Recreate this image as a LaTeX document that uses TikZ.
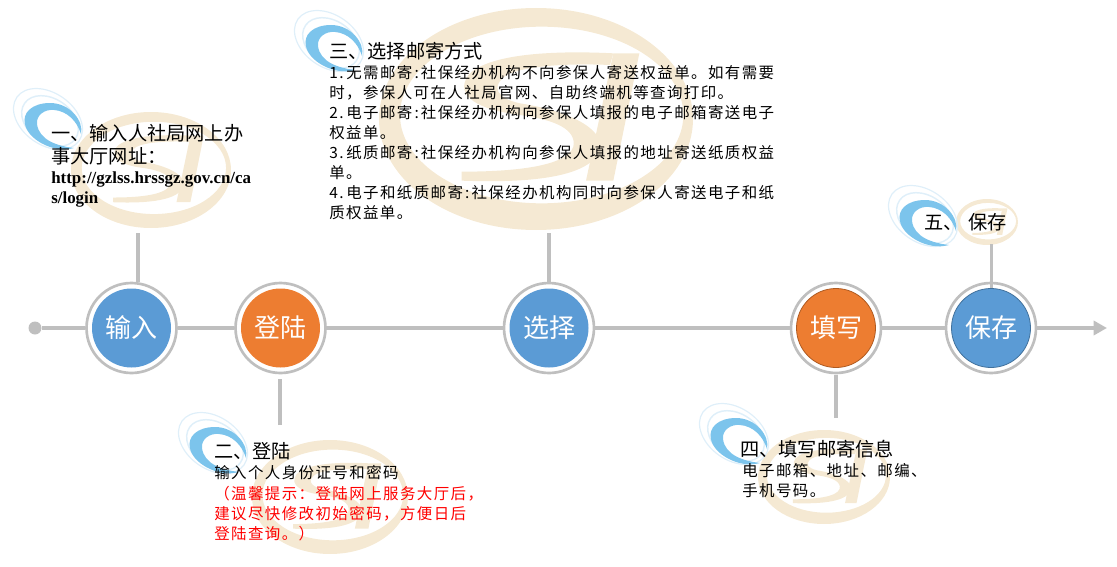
\documentclass[tikz,border=0pt]{standalone}
\usepackage{fontspec}
\setmainfont{Noto Sans CJK SC}
\newfontfamily\headcjk{Noto Sans CJK SC}
\newfontfamily\smallcjk[LetterSpace=9.2]{Noto Sans CJK SC}
\newfontfamily\urlserif{Liberation Serif}
\usetikzlibrary{arrows.meta}
\definecolor{axisgray}{HTML}{BFBFBF}
\definecolor{stepblue}{HTML}{5B9BD5}
\definecolor{steporange}{HTML}{ED7D31}
\definecolor{swirlblue}{HTML}{7CC4EC}
\definecolor{swirllight}{HTML}{DFEFF9}
\definecolor{logotan}{HTML}{F5E9D3}
\definecolor{bordorange}{HTML}{AE5A21}
\definecolor{bordblue}{HTML}{41719C}
\newcommand{\numlead}[1]{\makebox[12.75pt][l]{#1.}}
\newcommand{\halfcolon}{\makebox[6.4pt][c]{:}}
\newcommand{\tanlogo}[4]{%
  \begin{scope}[shift={(#1,#2)}]
  \begin{scope}[x={#3*0.75pt/471},y={-#4*0.75pt/333},shift={(-768,-357)}]
    \fill[logotan,even odd rule] (768,357) ellipse (471 and 333) (785,345) ellipse (425 and 265);
    \fill[logotan] (1000,160) .. controls (800,150) and (620,165) .. (565,225)
      .. controls (520,290) and (600,330) .. (720,345)
      .. controls (830,360) and (890,390) .. (880,440)
      .. controls (860,500) and (700,515) .. (545,515) -- (545,542)
      .. controls (760,550) and (930,530) .. (960,450)
      .. controls (975,380) and (850,330) .. (720,310)
      .. controls (650,295) and (630,260) .. (680,225)
      .. controls (740,195) and (880,190) .. (990,195) -- cycle;
    \fill[logotan] (1000,160) -- (1078,160) -- (1000,542) -- (918,542) -- cycle;
  \end{scope}
  \end{scope}}
\newcommand{\swirl}[2]{%
  \begin{scope}[shift={(#1,#2)}]
    \draw[swirllight,line width=0.9pt,rotate around={-35:(36,31)}] (36,31) ellipse (38 and 26);
    \draw[swirllight,line width=1.1pt,rotate around={-35:(38,33)}] (38,33) ellipse (31 and 22);
    \fill[swirlblue] (69,46) .. controls (72,33) and (58,15) .. (38,15)
      .. controls (20,15) and (10,25) .. (13,36)
      .. controls (15,50) and (40,66) .. (62,60)
      .. controls (45,58) and (27,52) .. (25,36)
      .. controls (24,27) and (33,21) .. (42,22)
      .. controls (55,23) and (65,33) .. (69,46) -- cycle;
  \end{scope}}
\tikzset{
  axisline/.style={draw=axisgray,line width=2.6pt},
  stepring/.style={circle,draw=axisgray,line width=2pt,fill=white,minimum size=67.5pt,inner sep=0pt},
  stepdisc/.style={circle,minimum size=59.25pt,inner sep=0pt,text=white,font=\headcjk\fontsize{19.5pt}{22pt}\selectfont},
  headtext/.style={anchor=north west,inner sep=0pt,align=left,font=\headcjk\fontsize{14.4pt}{17.25pt}\selectfont},
  smalltext/.style={anchor=north west,inner sep=0pt,align=left,font=\smallcjk\fontsize{11.6pt}{15.05pt}\selectfont},
  urltext/.style={anchor=north west,inner sep=0pt,align=left,font=\urlserif\bfseries\fontsize{12.7pt}{15pt}\selectfont},
}
\begin{document}
\begin{tikzpicture}[x=0.75pt,y=-0.75pt]
\useasboundingbox (0,0) rectangle (1117,567);
% logos
\tanlogo{151}{170}{80}{58}
\tanlogo{536}{119}{157}{111}
\tanlogo{330}{497}{78}{57}
\tanlogo{824}{477}{66}{47}
\tanlogo{987}{222}{31}{23}
\swirl{12}{88}
\swirl{293}{10}
\swirl{177}{412}
\swirl{698}{403}
\swirl{887}{185}
% step circles
\node[stepring] (r1) at (131.5,328) {};
\node[stepring] (r2) at (280.5,328) {};
\node[stepring] (r3) at (549,328) {};
\node[stepring] (r4) at (836,328) {};
\node[stepring] (r5) at (991,328) {};
% axis
\node[circle,fill=axisgray,minimum size=9.75pt,inner sep=0pt] (dot) at (35,328) {};
\coordinate (tip) at (1107,328);
\draw[axisline] (dot) -- (r1);
\draw[axisline] (r1) -- (r2);
\draw[axisline] (r2) -- (r3);
\draw[axisline] (r3) -- (r4);
\draw[axisline] (r4) -- (r5);
\draw[axisline,-{Triangle[length=10pt,width=10.5pt]}] (r5) -- (tip);
% branches
\coordinate (b1) at (138,233);
\coordinate (b2) at (280,425);
\coordinate (b3) at (549,233);
\coordinate (b4) at (836,418);
\coordinate (b5) at (991.5,244);
\draw[axisline] (b1) -- (b1 |- r1.north);
\draw[axisline] (b2) -- (280,379);
\draw[axisline] (b3) -- (b3 |- r3.north);
\draw[axisline] (b4) -- (836,375);
\draw[axisline] (b5) -- (991.5,289);
% discs
\node[stepdisc,fill=stepblue] (n1) at (r1) {输入};
\node[stepdisc,fill=steporange] (n2) at (r2) {登陆};
\node[stepdisc,fill=stepblue] (n3) at (r3) {选择};
\node[stepdisc,fill=steporange,draw=bordorange,line width=0.6pt] (n4) at (r4) {填写};
\node[stepdisc,fill=stepblue,draw=bordblue,line width=0.6pt] (n5) at (r5) {保存};
% texts
\node[headtext] (h1) at (51,124.5) {一、输入人社局网上办\\事大厅网址：};
\node[urltext] (u1) at (51,171.5) {http://gzlss.hrssgz.gov.cn/ca\\s/login};
\node[headtext] (h3) at (329,42) {三、选择邮寄方式};
\node[smalltext] (s3) at (329,65) {\numlead{1}无需邮寄\halfcolon 社保经办机构不向参保人寄送权益单。如有需要\\时，参保人可在人社局官网、自助终端机等查询打印。\\\numlead{2}电子邮寄\halfcolon 社保经办机构向参保人填报的电子邮箱寄送电子\\权益单。\\\numlead{3}纸质邮寄\halfcolon 社保经办机构向参保人填报的地址寄送纸质权益\\单。\\\numlead{4}电子和纸质邮寄\halfcolon 社保经办机构同时向参保人寄送电子和纸\\质权益单。};
\node[headtext] (h2) at (214,442) {二、登陆};
\node[smalltext] (s2) at (214,465) {输入个人身份证号和密码};
\node[smalltext,text=red] (w2) at (214,486) {（温馨提示：登陆网上服务大厅后，\\建议尽快修改初始密码，方便日后\\登陆查询。）};
\node[headtext] (h4) at (740,440) {四、填写邮寄信息};
\node[smalltext] (s4) at (742,463) {电子邮箱、地址、邮编、\\手机号码。};
\node[headtext] (h5) at (924,213.5) {五、\hspace{4.5pt}保存};
\end{tikzpicture}
\end{document}
